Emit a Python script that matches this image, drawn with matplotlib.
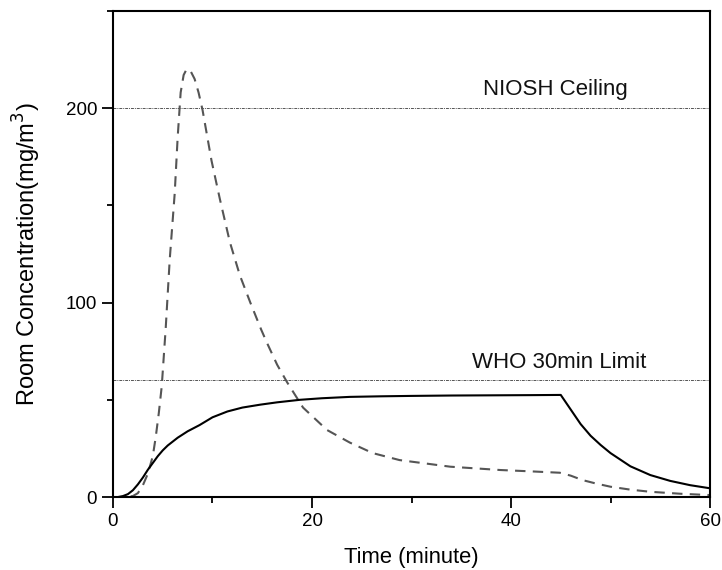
import matplotlib
matplotlib.use("Agg")
import matplotlib.pyplot as plt
from matplotlib.ticker import MultipleLocator

plt.rcParams['font.family'] = ['Liberation Sans', 'DejaVu Sans']

# solid curve (black)
t_solid = [0, 0.5, 1, 1.5, 2, 2.5, 3, 3.5, 4, 4.5, 5, 5.5, 6.5, 7.5, 8.7, 10, 11.5, 13, 14.8, 16.5, 18.8, 21, 23.8, 27, 30, 34, 38, 42, 45,
           46, 47, 48, 49, 50, 52, 54, 56, 58, 60]
c_solid = [0, 0, 0.5, 1.5, 3.5, 6.5, 10, 14, 17.5, 21, 24, 26.5, 30.5, 33.8, 37, 41, 44, 46, 47.5, 48.7, 50, 50.8, 51.5, 51.8, 52, 52.2, 52.3, 52.4, 52.5,
           45, 37.5, 31.5, 26.8, 22.6, 15.8, 11.3, 8.3, 6.1, 4.5]

# dashed curve (grey)
t_dash = [0, 1, 2, 2.5, 3, 3.5, 4, 4.3, 4.6, 4.9, 5.3, 5.7, 6.2, 6.5, 6.8, 7.1, 7.4, 7.8, 8.2, 8.6, 9.0, 9.9, 10.75, 11.75, 12.75,
          13.8, 14.9, 15.5, 16.5, 17.5, 19.1, 21.5, 23.8, 26.1, 28.8, 33.9, 38.9, 42, 44.9, 46, 47.2, 48.5, 50, 52, 54, 57, 60]
c_dash = [0, 0, 0.5, 2, 6, 12, 21, 31, 43, 57, 87, 122, 156, 185, 208, 217, 220, 219, 215, 208, 199, 173, 153, 131, 114,
          100, 86, 79, 68, 59, 46, 34.5, 28, 22.6, 19, 15.6, 13.9, 13.2, 12.5, 11, 8.7, 7, 5.3, 3.8, 2.7, 1.7, 1]

limits = [200, 60]
limit_names = ["NIOSH Ceiling", "WHO 30min Limit"]
limit_label_x = [37.2, 36.1]
limit_label_y = [204, 64]

fig = plt.figure(figsize=(7.22, 5.70), dpi=100)
ax = fig.add_axes([0.1565, 0.128, 0.8269, 0.853])

for lv in limits:
    ax.plot([0, 60], [lv, lv], color='#555555', lw=0.7, ls=(0, (3, 1, 1, 1)))

ax.plot(t_dash, c_dash, color='#555555', lw=1.5, ls=(0, (5, 3.5)))
ax.plot(t_solid, c_solid, color='black', lw=1.5)

for name, x, y in zip(limit_names, limit_label_x, limit_label_y):
    ax.text(x, y, name, fontsize=16, va='bottom', ha='left', color='#111111')

ax.set_xlim(0, 60)
ax.set_ylim(0, 250)
ax.xaxis.set_major_locator(MultipleLocator(20))
ax.xaxis.set_minor_locator(MultipleLocator(10))
ax.yaxis.set_major_locator(MultipleLocator(100))
ax.yaxis.set_minor_locator(MultipleLocator(50))
ax.tick_params(which='both', direction='out', width=1.3, labelsize=13.5, top=False, right=False)
ax.tick_params(which='major', length=8)
ax.tick_params(which='minor', length=4)
for s in ax.spines.values():
    s.set_linewidth(1.5)

ax.set_xlabel("Time (minute)", fontsize=15.8, labelpad=12)
ax.set_ylabel("Room Concentration(mg/m$^3$)", fontsize=17, labelpad=16)

fig.savefig("out.png", dpi=100)
